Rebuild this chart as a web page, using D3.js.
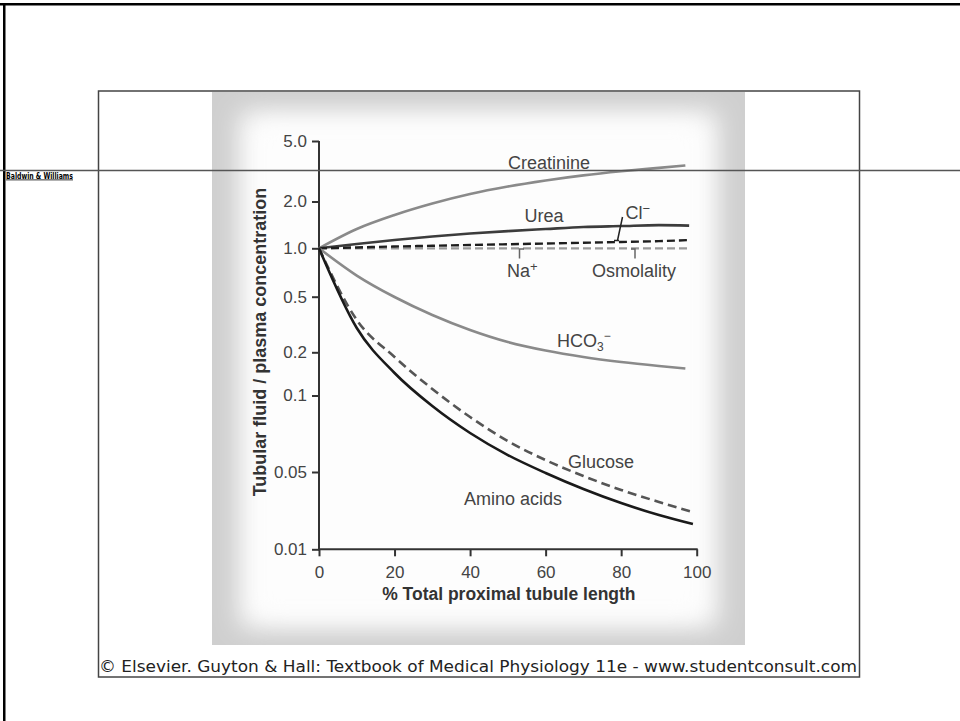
<!DOCTYPE html>
<html>
<head>
<meta charset="utf-8">
<script src="https://cdn.jsdelivr.net/npm/d3@7"></script>
<style>
html,body{margin:0;padding:0;background:#fff;}
svg{display:block;}
</style>
</head>
<body>
<svg id="chart" width="960" height="721"></svg>
<script>
// ---------------- DATA ----------------
const pctA = [0,10,20,30,40,50,60,70,80,90,97];
const pctB = [0,10,20,30,40,50,60,70,80,90,98];
const pctC = [0,10,20,30,40,50,60,70,80,90,99];

const creatinine = [1.0,1.331,1.638,1.941,2.241,2.51,2.75,2.97,3.16,3.33,3.45];
const urea       = [1.0,1.066,1.13,1.19,1.245,1.29,1.33,1.37,1.39,1.41,1.40];
const chloride   = [1.0,1.013,1.027,1.038,1.05,1.062,1.073,1.085,1.098,1.112,1.13];
const osmolality = [1.0,1.0,1.0,1.0,1.0,1.0,1.0,1.0,1.0,1.0,1.0];
const bicarbonate= [1.0,0.677,0.4975,0.370,0.289,0.237,0.206,0.1855,0.1712,0.1605,0.1542];
const glucose    = [1.0,0.341,0.1855,0.111,0.0823,0.0662,0.0557,0.046,0.0344,0.0268,0.0217];
const aminoAcids = [1.0,0.2985,0.1435,0.0909,0.0712,0.0583,0.049,0.0351,0.0262,0.0204,0.0169];

const yTickValues = [5.0,2.0,1.0,0.5,0.2,0.1,0.05,0.01];
const yTickLabels = ["5.0","2.0","1.0","0.5","0.2","0.1","0.05","0.01"];
const xTickValues = [0,20,40,60,80,100];

// ---------------- LAYOUT ----------------
// pixel calibration of the (non-uniform) log axis of the original figure
const yTickPixels = [141,201.5,248.3,296.7,352.3,395.5,472,549.3];
const plot = {left:319, right:696.7, top:141, bottom:549.3};

const svg = d3.select("#chart");

// outer slide frame
svg.append("rect").attr("x",0).attr("y",3).attr("width",960).attr("height",2.5).attr("fill","#000");
svg.append("rect").attr("x",3).attr("y",3).attr("width",2.5).attr("height",718).attr("fill","#000");

// picture box
const defs = svg.append("defs");
const blur = defs.append("filter").attr("id","soft").attr("x","-20%").attr("y","-20%").attr("width","140%").attr("height","140%");
blur.append("feGaussianBlur").attr("stdDeviation",13);
defs.append("clipPath").attr("id","panelClip").append("rect")
  .attr("x",212).attr("y",92).attr("width",533).attr("height",553);

const panel = svg.append("g").attr("clip-path","url(#panelClip)");
panel.append("rect").attr("x",212).attr("y",92).attr("width",533).attr("height",553).attr("fill","#cfcfcf");
panel.append("rect").attr("x",240).attr("y",112).attr("width",477).attr("height",515)
  .attr("fill","#fdfdfd").attr("filter","url(#soft)");
panel.append("rect").attr("x",258).attr("y",125).attr("width",441).attr("height",490).attr("fill","#fdfdfd").attr("filter","url(#soft)");

svg.append("rect").attr("x",98.5).attr("y",91).attr("width",761).attr("height",586)
  .attr("fill","none").attr("stroke","#444").attr("stroke-width",1.5);

// caption
svg.append("text").attr("x",99).attr("y",672)
  .attr("font-family","'DejaVu Sans', Verdana, sans-serif").attr("font-size",16.5)
  .attr("fill","#222").attr("textLength",758).attr("lengthAdjust","spacingAndGlyphs")
  .text("© Elsevier. Guyton & Hall: Textbook of Medical Physiology 11e - www.studentconsult.com");

// ---------------- SCALES ----------------
const x = d3.scaleLinear().domain([0,100]).range([plot.left, plot.right]);
const y = d3.scaleLog().domain(yTickValues).range(yTickPixels);

const font = "'Liberation Sans', Arial, Helvetica, sans-serif";
const g = svg.append("g");

// axes
const yAxis = d3.axisLeft(y).tickValues(yTickValues)
  .tickFormat((d,i)=>yTickLabels[i]).tickSize(7).tickPadding(5);
const yg = g.append("g").attr("transform",`translate(${plot.left},0)`).call(yAxis);
const xAxis = d3.axisBottom(x).tickValues(xTickValues).tickSize(7).tickPadding(10);
const xg = g.append("g").attr("transform",`translate(0,${plot.bottom})`).call(xAxis);
[yg,xg].forEach(a=>{
  a.select(".domain").remove();
  a.selectAll(".tick line").attr("stroke","#333").attr("stroke-width",2);
  a.selectAll(".tick text").attr("font-family",font).attr("font-size",17).attr("fill","#444");
});
yg.append("line").attr("x1",0).attr("x2",0).attr("y1",plot.top).attr("y2",plot.bottom+1)
  .attr("stroke","#333").attr("stroke-width",2);
xg.append("line").attr("x1",plot.left-1).attr("x2",plot.right+1).attr("y1",0).attr("y2",0)
  .attr("stroke","#333").attr("stroke-width",2);

// axis titles
g.append("text").attr("x",(plot.left+plot.right)/2 + 1).attr("y",599.5)
  .attr("text-anchor","middle").attr("font-family",font).attr("font-weight","bold")
  .attr("font-size",17.5).attr("fill","#333").text("% Total proximal tubule length");
g.append("text").attr("transform","translate(266,342) rotate(-90)")
  .attr("text-anchor","middle").attr("font-family",font).attr("font-weight","bold")
  .attr("font-size",18).attr("fill","#333").text("Tubular fluid / plasma concentration");

// ---------------- SERIES ----------------
const series = [
  {name:"Osmolality", pct:pctB, vals:osmolality, color:"#9a9a9a", width:2.2, dash:"8,4"},
  {name:"Creatinine", pct:pctA, vals:creatinine, color:"#8a8a8a", width:2.6, dash:null},
  {name:"Urea", pct:pctB, vals:urea, color:"#3c3c3c", width:2.6, dash:null},
  {name:"Cl", pct:pctB, vals:chloride, color:"#1e1e1e", width:2.4, dash:"8,4"},
  {name:"HCO3", pct:pctA, vals:bicarbonate, color:"#8a8a8a", width:2.6, dash:null},
  {name:"Glucose", pct:pctC, vals:glucose, color:"#555", width:2.6, dash:"9,5"},
  {name:"Amino acids", pct:pctC, vals:aminoAcids, color:"#1a1a1a", width:2.6, dash:null}
];
const line = d3.line().x(d=>x(d[0])).y(d=>y(d[1])).curve(d3.curveMonotoneX);
series.forEach(s=>{
  g.append("path").datum(s.pct.map((p,i)=>[p,s.vals[i]]))
    .attr("d",line).attr("fill","none").attr("stroke",s.color)
    .attr("stroke-width",s.width).attr("stroke-dasharray",s.dash);
});

// ---------------- LABELS ----------------
const lab = (px,py,anchor)=>g.append("text").attr("x",px).attr("y",py).attr("text-anchor",anchor||"start")
  .attr("font-family",font).attr("font-size",18).attr("fill","#444");
lab(549,168.5,"middle").text("Creatinine");
lab(544,221.5,"middle").text("Urea");
const cl = lab(625.5,218.5); cl.append("tspan").text("Cl");
cl.append("tspan").attr("dy",-6).attr("font-size",13).text("−");
const na = lab(507,276.5); na.append("tspan").text("Na");
na.append("tspan").attr("dy",-6).attr("font-size",13).text("+");
lab(634,276.5,"middle").text("Osmolality");
const hc = lab(557,346.5); hc.append("tspan").text("HCO");
hc.append("tspan").attr("dy",4).attr("font-size",12).text("3");
hc.append("tspan").attr("dy",-11).attr("font-size",12).text("−");
lab(568,467.5).text("Glucose");
lab(562,505,"end").text("Amino acids");

// leader lines
const leaders = g.append("g").attr("fill","none").attr("stroke-width",1.5);
leaders.append("path").attr("d","M622.5,217 L617.5,240.5 M614,240.5 L619,240.5").attr("stroke","#222");
leaders.append("path").attr("d","M519.5,258.5 L519.5,249 L524,249").attr("stroke","#666");
leaders.append("path").attr("d","M635,258.5 L635,249 L631,249").attr("stroke","#666");

// slide horizontal rule and note
svg.append("line").attr("x1",0).attr("x2",960).attr("y1",170.5).attr("y2",170.5)
  .attr("stroke","#555").attr("stroke-width",1.5);
svg.append("text").attr("x",6).attr("y",178.5).attr("font-family","'DejaVu Sans', sans-serif")
  .attr("font-size",8).attr("font-weight","bold").attr("text-decoration","underline")
  .attr("fill","#000").attr("textLength",67).attr("lengthAdjust","spacingAndGlyphs")
  .text("Baldwin & Williams");
</script>
</body>
</html>
